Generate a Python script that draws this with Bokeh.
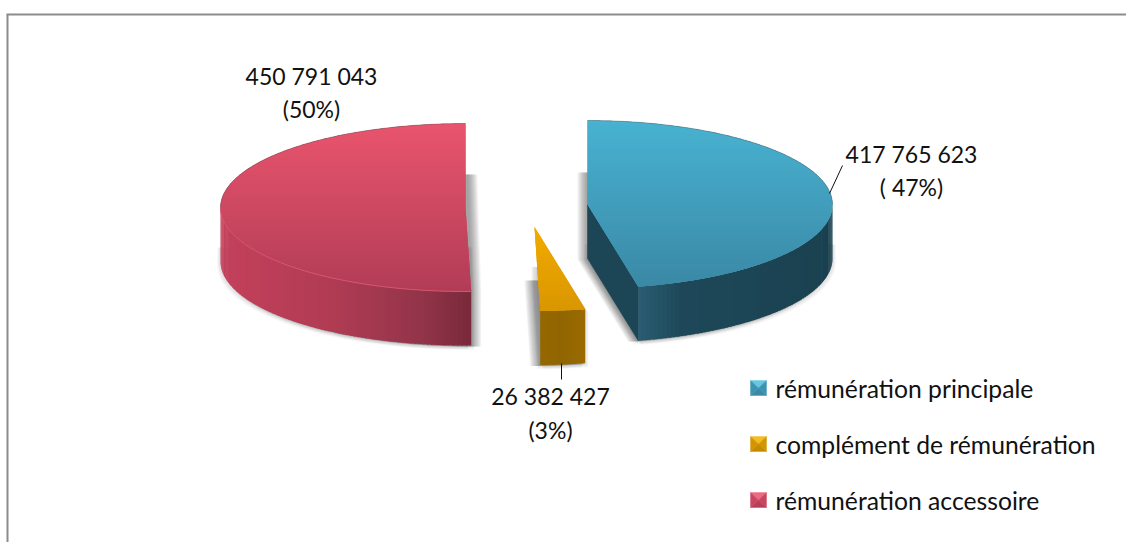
import numpy as np
from bokeh.plotting import figure
from bokeh.models import Range1d, ColumnDataSource
from bokeh.core.properties import value
from bokeh.embed import file_html
from bokeh.resources import INLINE

# ---- data ----
categories = ["rémunération principale", "complément de rémunération", "rémunération accessoire"]
amounts = [417765623, 26382427, 450791043]
amount_labels = ["417 765 623", "26 382 427", "450 791 043"]
share_labels = ["( 47%)", "(3%)", "(50%)"]

# ---- layout and style ----
W, H = 1126, 542
FONT = "Lato"
FS_LABEL = "23px"
FS_LEGEND = "24.7px"
RX, RY, DEPTH = 245.0, 84.0, 54.0
centres = [(587.0, 204.0), (534.0, 226.5), (465.0, 207.0)]
top_cols = [("#48b2d1", "#3a88a5"), ("#f2aa00", "#d99600"), ("#e9546d", "#b13c56")]
wall_stops = [
    [(638, "#2a5c72"), (680, "#1e4859"), (832, "#1a4150")],
    [(539, "#956800"), (560, "#916500"), (584, "#9a6b00")],
    [(221, "#c4405b"), (330, "#b03c53"), (420, "#93344a"), (471, "#78293a")],
]
flat_col = "#1c4555"
shadow_dir = [-1, -1, 1]
shadow_top = [172, 280, 174]
label_pos = [(911, 153, 186), (550, 395, 429), (311, 75, 108)]
legend_ys = [387, 443, 499]
legend_cols = [("#3d93b2", "#62c8e3", "#3d93b2", "#3a8aa6"),
               ("#d49600", "#f6bb20", "#d49600", "#c48a00"),
               ("#c94660", "#ec6a82", "#c94660", "#b93e58")]


def hex2rgb(c):
    return np.array([int(c[i:i + 2], 16) for i in (1, 3, 5)], float)


def mix(c0, c1, t):
    v = hex2rgb(c0) * (1 - t) + hex2rgb(c1) * t
    return "#%02x%02x%02x" % tuple(int(round(a)) for a in v)


def stop_colour(stops, x):
    xs = [s[0] for s in stops]
    rgb = np.array([hex2rgb(s[1]) for s in stops])
    v = [np.interp(x, xs, rgb[:, i]) for i in range(3)]
    return "#%02x%02x%02x" % tuple(int(round(a)) for a in v)


def arc(c, a0, a1, n=None):
    n = n or max(3, int(abs(a1 - a0) * 1.5))
    t = np.radians(np.linspace(a0, a1, n))
    return c[0] + RX * np.sin(t), c[1] - RY * np.cos(t)


def keep_below(poly, y):
    """part of the polygon with screen coordinate >= y"""
    return _clip(poly, y, -1)


def keep_above(poly, y):
    """part of the polygon with screen coordinate <= y"""
    return _clip(poly, y, 1)


def _clip(poly, y, sign):
    out = []
    for i in range(len(poly)):
        a, b = poly[i], poly[(i + 1) % len(poly)]
        da, db = sign * (y - a[1]), sign * (y - b[1])
        if da >= 0:
            out.append(a)
        if da * db < 0:
            t = da / (da - db)
            out.append((a[0] + t * (b[0] - a[0]), a[1] + t * (b[1] - a[1])))
    return out


def hull(pts):
    pts = sorted(set(pts))

    def half(seq):
        h = []
        for p in seq:
            while len(h) > 1 and (h[-1][0] - h[-2][0]) * (p[1] - h[-2][1]) - (h[-1][1] - h[-2][1]) * (p[0] - h[-2][0]) <= 0:
                h.pop()
            h.append(p)
        return h[:-1]

    return half(pts) + half(pts[::-1])


p = figure(width=W, height=H, x_range=Range1d(0, W), y_range=Range1d(H, 0),
           output_backend="svg", toolbar_location=None, min_border=0,
           margin=(0, 0, 0, 0), outline_line_color=None)
p.axis.visible = False
p.grid.visible = False
p.background_fill_color = "white"
p.border_fill_color = "white"

# frame (top and left only)
p.line([7, 7], [H, 14], line_color="#8c8c8c", line_width=2)
p.line([6, W], [14, 14], line_color="#8c8c8c", line_width=2)

# slice angles from the values
total = sum(amounts)
edges = np.concatenate([[0], np.cumsum(amounts) / total * 360.0])

xs_s, ys_s, al_s = [], [], []
for i, c in enumerate(centres):
    a0, a1 = edges[i], edges[i + 1]
    ax, ay = arc(c, a0, a1)
    top = [(c[0], c[1])] + list(zip(ax, ay))
    sil = hull(top + [(x, y + DEPTH) for x, y in top])
    # directional shadow beside the flat side
    for k in range(1, 11):
        s = keep_below([(x + shadow_dir[i] * k, y + 1) for x, y in sil], shadow_top[i])
        xs_s.append([q[0] for q in s]); ys_s.append([q[1] for q in s]); al_s.append(0.075)
    # soft ground shadow
    for k in (1, 2, 3, 4):
        for sgn in (-1, 1):
            s = keep_below([(x + sgn * k * 0.8, y + k) for x, y in sil], c[1] + 40)
            xs_s.append([q[0] for q in s]); ys_s.append([q[1] for q in s]); al_s.append(0.05)
p.patches("x", "y", source=ColumnDataSource(dict(x=xs_s, y=ys_s, a=al_s)),
          fill_color="#5a5a5a", fill_alpha="a", line_color=None)

for i, c in enumerate(centres):
    a0, a1 = edges[i], edges[i + 1]
    # flat side that faces the viewer (first slice only)
    if i == 0:
        ex, ey = arc(c, a1, a1, 2)
        p.patch([c[0], ex[0], ex[0], c[0]], [c[1], ey[0], ey[0] + DEPTH, c[1] + DEPTH],
                fill_color=flat_col, line_color=flat_col, line_width=0.5)
    # outer wall, in vertical bands
    w0, w1 = max(a0, 90), min(a1, 270)
    n = max(2, int(w1 - w0) + 1)
    ang = np.linspace(w0, w1, n)
    bx, by, bc = [], [], []
    for j in range(n - 1):
        t = np.radians(np.linspace(ang[j], min(ang[j + 1] + 0.4, w1), 3))
        x = c[0] + RX * np.sin(t)
        y = c[1] - RY * np.cos(t)
        bx.append(list(x) + list(x[::-1]))
        by.append(list(y) + list((y + DEPTH)[::-1]))
        bc.append(stop_colour(wall_stops[i], x.mean()))
    p.patches("x", "y", source=ColumnDataSource(dict(x=bx, y=by, c=bc)),
              fill_color="c", line_color=None)
    # top face, in horizontal bands
    ax, ay = arc(c, a0, a1)
    poly = [(c[0], c[1])] + list(zip(ax, ay))
    p.patch([q[0] for q in poly], [q[1] for q in poly], fill_color=mix(*top_cols[i], 0.5), line_color=None)
    ymin, ymax = min(q[1] for q in poly), max(q[1] for q in poly)
    tx, ty, tc = [], [], []
    for y0 in np.arange(ymin, ymax, 3.0):
        b = keep_above(keep_below(poly, y0), y0 + 4.0)
        if len(b) < 3:
            continue
        tx.append([q[0] for q in b]); ty.append([q[1] for q in b])
        tc.append(mix(*top_cols[i], (y0 - ymin) / (ymax - ymin)))
    p.patches("x", "y", source=ColumnDataSource(dict(x=tx, y=ty, c=tc)), fill_color="c", line_color=None)
    if i == 2:
        rx_, ry_ = arc(c, a0, 270)
        p.line(rx_, ry_, line_color="#d9566f", line_width=1)
    # thin dark edge along the far rim
    if i == 0:
        ox, oy = arc(c, 0, 90)
        p.line(ox, oy, line_color="#555555", line_alpha=0.5, line_width=0.8)
    if i == 2:
        ox, oy = arc(c, 270, 360)
        p.line(ox, oy, line_color="#555555", line_alpha=0.5, line_width=0.8)

# leader lines
p.line([829, 842], [193, 165], line_color="#111111", line_width=1)
p.line([561, 561], [363, 379], line_color="#111111", line_width=1)

# data labels
for i, (x, y0, y1) in enumerate(label_pos):
    for y, txt in ((y0, amount_labels[i]), (y1, share_labels[i])):
        p.text([x], [y], text=[txt], text_font=value(FONT), text_font_size=FS_LABEL,
               text_color="#111111", text_align="center", text_baseline="middle")

# legend
for y, cat, cols in zip(legend_ys, categories, legend_cols):
    x0, x1, y0, y1 = 750, 766, y - 7, y + 8
    mx, my = (x0 + x1) / 2, (y0 + y1) / 2
    tris = [([x0, x1, mx], [y0, y0, my], cols[1]), ([x0, mx, x0], [y0, my, y1], cols[0]),
            ([x1, mx, x1], [y0, my, y1], cols[0]), ([x0, x1, mx], [y1, y1, my], cols[3])]
    for tx_, ty_, col in tris:
        p.patch(tx_, ty_, fill_color=col, line_color=col, line_width=0.4)
    p.text([775], [y + 1], text=[cat], text_font=value(FONT), text_font_size=FS_LEGEND,
           text_color="#111111", text_align="left", text_baseline="middle")

open("out.html", "w").write(file_html(p, INLINE))
